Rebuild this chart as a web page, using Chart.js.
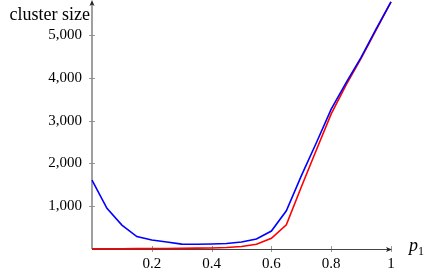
<!DOCTYPE html>
<html>
<head>
<meta charset="utf-8">
<script src="https://cdn.jsdelivr.net/npm/chart.js@4/dist/chart.umd.min.js"></script>
<style>
  html, body { margin: 0; padding: 0; background: #fff; }
  #wrap { width: 433px; height: 273px; position: relative; }
</style>
</head>
<body>
<div id="wrap"><canvas id="chart"></canvas></div>
<script>
"use strict";

const pValues = [0, 0.05, 0.1, 0.15, 0.2, 0.25, 0.3, 0.35, 0.4, 0.45, 0.5,
  0.55, 0.6, 0.65, 0.7, 0.75, 0.8, 0.85, 0.9, 0.95, 1];
const blueSizes = [1610, 950, 560, 290, 210, 165, 115, 110, 117, 130, 165,
  235, 420, 895, 1710, 2480, 3270, 3890, 4480, 5140, 5780];
const redSizes = [5, 5, 6, 8, 10, 12, 15, 20, 25, 35, 60,
  110, 250, 565, 1450, 2310, 3160, 3840, 4460, 5120, 5780];
const xTickValues = [0.2, 0.4, 0.6, 0.8, 1];
const yTickValues = [1000, 2000, 3000, 4000, 5000];
const yLabel = "cluster size";

const serif = "'Liberation Serif', 'DejaVu Serif', serif";

function toPoints(values) {
  return pValues.map((p, i) => ({ x: p, y: values[i] }));
}

// axis lines with arrow heads, ticks crossing the axes, axis labels
const axisPlugin = {
  id: "axisPlugin",
  beforeDatasetsDraw(chart) {
    const ctx = chart.ctx;
    const x = chart.scales.x;
    const y = chart.scales.y;
    const x0 = x.getPixelForValue(0);
    const y0 = y.getPixelForValue(0);
    const xEnd = x.getPixelForValue(1) + 1;

    ctx.save();
    ctx.lineWidth = 1;
    ctx.strokeStyle = "#999";
    for (const v of yTickValues) {
      const py = Math.round(y.getPixelForValue(v)) + 0.5;
      ctx.beginPath();
      ctx.moveTo(x0 - 3, py);
      ctx.lineTo(x0 + 3, py);
      ctx.stroke();
    }
    for (const v of xTickValues) {
      const px = Math.round(x.getPixelForValue(v)) + 0.5;
      ctx.beginPath();
      ctx.moveTo(px, y0 - 3);
      ctx.lineTo(px, y0 + 3);
      ctx.stroke();
    }

    // y axis
    ctx.strokeStyle = "#888";
    ctx.lineWidth = 1.6;
    ctx.beginPath();
    ctx.moveTo(x0, y0);
    ctx.lineTo(x0, 3);
    ctx.stroke();
    // x axis
    ctx.strokeStyle = "#444";
    ctx.lineWidth = 1;
    ctx.beginPath();
    ctx.moveTo(x0, Math.round(y0) + 0.5);
    ctx.lineTo(xEnd - 3, Math.round(y0) + 0.5);
    ctx.stroke();

    ctx.fillStyle = "#222";
    ctx.beginPath();
    ctx.moveTo(x0, 0);
    ctx.lineTo(x0 - 2.5, 6);
    ctx.lineTo(x0, 4.5);
    ctx.lineTo(x0 + 2.5, 6);
    ctx.closePath();
    ctx.fill();
    const ay = Math.round(y0) + 0.5;
    ctx.beginPath();
    ctx.moveTo(xEnd, ay);
    ctx.lineTo(xEnd - 6, ay - 2.5);
    ctx.lineTo(xEnd - 4.5, ay);
    ctx.lineTo(xEnd - 6, ay + 2.5);
    ctx.closePath();
    ctx.fill();
    ctx.restore();
  },
  afterDraw(chart) {
    const ctx = chart.ctx;
    ctx.save();
    ctx.fillStyle = "#000";
    ctx.textBaseline = "alphabetic";
    ctx.textAlign = "right";
    ctx.font = "18px " + serif;
    ctx.fillText(yLabel, 90, 20);

    ctx.textAlign = "left";
    ctx.font = "italic 18px " + serif;
    ctx.fillText("p", 409, 251);
    ctx.font = "12px " + serif;
    ctx.fillText("1", 418, 255);
    ctx.restore();
  }
};

function noPadding(scale) {
  scale.paddingTop = 0;
  scale.paddingBottom = 0;
  scale.paddingLeft = 0;
  scale.paddingRight = 0;
}

const chart = new Chart(document.getElementById("chart"), {
  type: "line",
  data: {
    datasets: [
      {
        label: "blue",
        data: toPoints(blueSizes),
        borderColor: "#0000ff",
        borderWidth: 1.6,
        pointRadius: 0,
        tension: 0,
        clip: false,
      },
      {
        label: "red",
        data: toPoints(redSizes),
        borderColor: "#ff0000",
        borderWidth: 1.6,
        pointRadius: 0,
        tension: 0,
        clip: false,
      },
    ],
  },
  options: {
    responsive: true,
    maintainAspectRatio: false,
    animation: false,
    layout: { autoPadding: false, padding: { left: 0, right: 42, top: 1, bottom: 0 } },
    plugins: {
      legend: { display: false },
      tooltip: { enabled: false },
    },
    scales: {
      x: {
        type: "linear",
        min: 0,
        max: 1,
        grid: { display: false, drawTicks: false },
        border: { display: false },
        afterBuildTicks: (scale) => {
          scale.ticks = xTickValues.map((v) => ({ value: v }));
        },
        afterFit: (scale) => {
          scale.height = 24;
          noPadding(scale);
        },
        ticks: {
          padding: 6,
          color: "#000",
          maxRotation: 0,
          font: { family: serif, size: 15 },
          callback: (v) => String(v),
        },
      },
      y: {
        type: "linear",
        min: 0,
        max: 5800,
        grid: { display: false, drawTicks: false },
        border: { display: false },
        afterBuildTicks: (scale) => {
          scale.ticks = yTickValues.map((v) => ({ value: v }));
        },
        afterFit: (scale) => {
          scale.width = 92;
          noPadding(scale);
        },
        ticks: {
          padding: 10,
          color: "#000",
          font: { family: serif, size: 15 },
          callback: (v) => v.toLocaleString("en-US"),
        },
      },
    },
  },
  plugins: [axisPlugin],
});
</script>
</body>
</html>
